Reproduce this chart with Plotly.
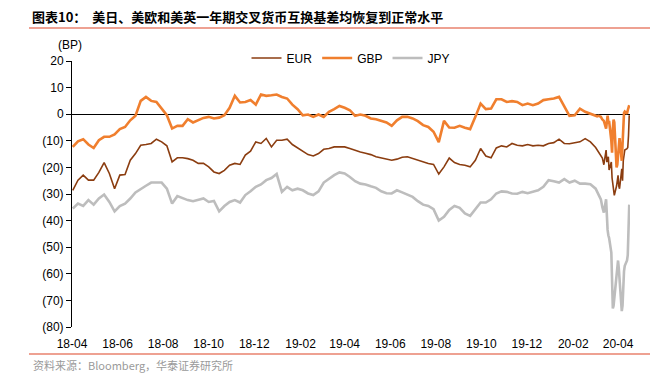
import pandas as pd
import plotly.graph_objects as go

# ---- data (basis points) ----
# weekly observations from 2018-04-02 to 2020-02-24
weekly_dates = pd.date_range("2018-04-02", periods=100, freq="7D").strftime("%Y-%m-%d").tolist()
eur_weekly = [-28.6, -24.8, -22.9, -24.8, -24.8, -21.9, -18.2, -22.3, -28.0, -22.9,
              -22.7, -17.3, -14.8, -11.7, -11.4, -11.0, -9.4, -10.4, -11.9, -17.9,
              -16.4, -16.4, -16.7, -17.3, -18.5, -18.5, -19.8, -21.7, -22.3, -21.1,
              -19.2, -18.5, -18.9, -15.4, -13.9, -10.4, -11.0, -9.1, -12.3, -9.8,
              -9.8, -9.4, -11.4, -12.7, -13.9, -15.2, -15.7, -14.8, -13.2, -12.9,
              -12.3, -12.3, -12.3, -12.9, -13.7, -14.2, -14.7, -15.2, -16.0, -16.4,
              -16.9, -17.3, -16.9, -16.2, -16.0, -16.7, -17.3, -17.9, -18.5, -18.9,
              -22.5, -19.8, -16.5, -18.2, -18.9, -19.2, -19.8, -17.3, -12.9, -15.7,
              -16.4, -12.7, -11.9, -12.3, -11.0, -11.7, -11.9, -11.4, -11.9, -11.7,
              -11.9, -11.0, -10.7, -9.4, -11.0, -11.1, -10.7, -10.4, -9.2, -10.4]
gbp_weekly = [-12.3, -10.2, -9.4, -11.4, -12.7, -9.8, -8.5, -8.5, -7.6, -5.6,
              -4.8, -2.3, -0.6, 5.0, 6.5, 5.0, 4.6, 1.9, -0.4, -5.4,
              -4.4, -4.4, -1.9, -3.1, -2.3, -1.4, -1.0, -1.6, -1.3, -0.4,
              2.4, 6.9, 4.4, 4.6, 5.3, 3.6, 7.4, 6.9, 7.1, 7.4,
              6.5, 5.9, 3.6, 1.9, -0.4, -0.1, -1.0, -0.1, -1.0, 0.9,
              1.9, 3.1, 2.4, 1.5, -0.6, -0.1, -0.6, -1.6, -1.9, -2.4,
              -3.1, -4.4, -2.3, -1.0, -1.0, -1.6, -2.6, -4.1, -4.8, -6.6,
              -10.5, -2.5, -5.0, -5.1, -4.4, -5.1, -5.6, -1.0, 4.0, 1.9,
              2.1, 5.6, 5.6, 4.6, 4.9, 4.6, 3.4, 4.0, 3.4, 4.0,
              5.3, 5.6, 5.9, 6.5, 2.8, -0.6, -0.4, 2.1, 0.9, 0.2]
jpy_weekly = [-35.5, -33.6, -34.5, -32.3, -34.0, -31.7, -30.2, -33.0, -36.5, -34.5,
              -33.6, -31.7, -29.4, -28.0, -26.9, -25.7, -25.8, -25.7, -28.0, -33.6,
              -30.8, -31.5, -32.3, -32.7, -32.3, -31.7, -33.0, -32.6, -36.5, -34.5,
              -33.0, -32.3, -33.2, -30.4, -29.0, -27.3, -26.4, -24.8, -24.0, -22.5,
              -29.2, -27.3, -28.6, -28.0, -28.6, -29.8, -30.4, -29.0, -25.7, -24.2,
              -22.9, -21.9, -22.3, -23.6, -25.2, -26.1, -26.4, -27.1, -27.7, -29.0,
              -29.7, -29.8, -28.6, -29.4, -30.2, -31.1, -32.7, -34.0, -34.5, -35.7,
              -40.0, -38.6, -36.0, -34.5, -35.2, -37.3, -38.2, -35.5, -33.2, -33.2,
              -32.0, -29.8, -29.0, -29.2, -29.8, -29.9, -29.2, -29.7, -29.2, -28.6,
              -27.3, -24.8, -25.2, -25.7, -24.4, -25.7, -25.0, -26.1, -26.1, -26.3]

# daily observations, March - April 2020
tail_dates = ["2020-03-02", "2020-03-04", "2020-03-06", "2020-03-09", "2020-03-11",
              "2020-03-13", "2020-03-16", "2020-03-17", "2020-03-18", "2020-03-19",
              "2020-03-20", "2020-03-23", "2020-03-24", "2020-03-25", "2020-03-26",
              "2020-03-27", "2020-03-30", "2020-03-31", "2020-04-01", "2020-04-02",
              "2020-04-03", "2020-04-06", "2020-04-07", "2020-04-08", "2020-04-09",
              "2020-04-10", "2020-04-13", "2020-04-14", "2020-04-15", "2020-04-16"]
eur_tail = [-12.5, -13.5, -14.2, -15.5, -16.5, -19.0, -13.5, -18.0, -16.5, -16.0,
            -21.0, -18.0, -24.0, -26.0, -28.5, -30.5, -27.0, -24.0, -23.0, -27.0,
            -28.0, -20.5, -25.0, -17.5, -14.0, -13.5, -13.0, -12.5, -8.0, -0.4]
gbp_tail = [-0.5, -0.8, -0.6, -1.0, -2.0, -2.5, -5.4, -1.0, -0.5, -3.0,
            -2.5, -10.0, -14.5, -5.5, -2.0, -3.0, -20.0, -19.0, -16.0, -13.0,
            -9.0, -17.5, -10.0, -1.0, 0.5, 1.0, 0.2, 1.5, 2.2, 3.4]
jpy_tail = [-28.0, -29.0, -30.0, -32.0, -35.0, -37.0, -32.0, -40.0, -43.5, -45.5,
            -46.5, -52.0, -62.0, -73.0, -72.0, -69.0, -60.0, -57.0, -55.0, -58.0,
            -62.0, -74.0, -72.0, -63.0, -59.0, -57.0, -55.0, -53.0, -45.0, -34.0]

dates = weekly_dates + tail_dates
series = {
    "EUR": eur_weekly + eur_tail,
    "GBP": gbp_weekly + gbp_tail,
    "JPY": jpy_weekly + jpy_tail,
}
colors = {"EUR": "#8B3D10", "GBP": "#F07F2E", "JPY": "#BDBDBD"}
widths = {"EUR": 1.6, "GBP": 2.6, "JPY": 2.6}

y_tickvals = [20, 10, 0, -10, -20, -30, -40, -50, -60, -70, -80]
y_ticktext = ["20", "10", "0", "(10)", "(20)", "(30)", "(40)", "(50)", "(60)", "(70)", "(80)"]
x_tickvals = pd.date_range("2018-04-01", "2020-04-01", freq="2MS").strftime("%Y-%m-%d").tolist()
x_ticktext = [pd.Timestamp(d).strftime("%y-%m") for d in x_tickvals]

title_text = "<b>图表10：  美日、美欧和美英一年期交叉货币互换基差均恢复到正常水平</b>"
source_text = "资料来源：Bloomberg，华泰证券研究所"

# ---- figure ----
W, H = 669, 373
L, R, T, B = 72, 39, 61, 46
pw, ph = W - L - R, H - T - B

def px(x):
    return (x - L) / pw

def py(y):
    return (H - B - y) / ph

fig = go.Figure()
for name in ["EUR", "GBP", "JPY"]:
    fig.add_trace(go.Scatter(
        x=dates, y=series[name], mode="lines", name=name,
        line=dict(color=colors[name], width=widths[name]),
    ))

fig.update_layout(
    width=W, height=H,
    margin=dict(l=L, r=R, t=T, b=B, pad=0),
    paper_bgcolor="white", plot_bgcolor="white",
    font=dict(family="Liberation Sans, Arial, sans-serif", size=12, color="#000000"),
    showlegend=True,
    legend=dict(orientation="h", x=0.5, xanchor="center", y=py(58), yanchor="middle",
                font=dict(size=12, color="#000000"), bgcolor="rgba(0,0,0,0)",
                itemwidth=30, tracegroupgap=0),
)
fig.update_xaxes(
    type="date", range=["2018-04-01", "2020-04-17"],
    tickvals=x_tickvals, ticktext=x_ticktext,
    showgrid=False, showline=False, zeroline=False,
    ticks="outside", ticklen=6, tickcolor="rgba(0,0,0,0)",
    tickfont=dict(size=12, color="#000000"),
)
fig.update_yaxes(
    range=[-80, 20], tickvals=y_tickvals, ticktext=y_ticktext,
    showgrid=False, showline=True, linecolor="#000000", linewidth=1,
    ticks="outside", ticklen=5, tickcolor="#000000", tickwidth=1,
    zeroline=True, zerolinecolor="#000000", zerolinewidth=1,
    tickfont=dict(size=12, color="#000000"),
)

fig.add_annotation(text=title_text, xref="paper", yref="paper",
                   x=px(30), y=py(17), xanchor="left", yanchor="middle", showarrow=False,
                   font=dict(family="Noto Sans CJK SC, sans-serif", size=13, color="#000000"))
fig.add_annotation(text="(BP)", xref="paper", yref="paper",
                   x=px(70), y=py(45), xanchor="center", yanchor="middle", showarrow=False,
                   font=dict(size=12, color="#000000"))
fig.add_annotation(text=source_text, xref="paper", yref="paper",
                   x=px(31), y=py(365), xanchor="left", yanchor="middle", showarrow=False,
                   font=dict(family="Noto Sans CJK SC, sans-serif", size=11, color="#9A9A9A"))
fig.add_shape(type="line", xref="paper", yref="paper",
              x0=px(29), x1=px(650), y0=py(28), y1=py(28),
              line=dict(color="#E8826E", width=1.5))
fig.add_shape(type="line", xref="paper", yref="paper",
              x0=px(29), x1=px(650), y0=py(354), y1=py(354),
              line=dict(color="#E8826E", width=1.5))

fig.write_html("out.html", config={"displayModeBar": False},
               post_script="document.body.style.margin='0';document.body.style.overflow='hidden';")
